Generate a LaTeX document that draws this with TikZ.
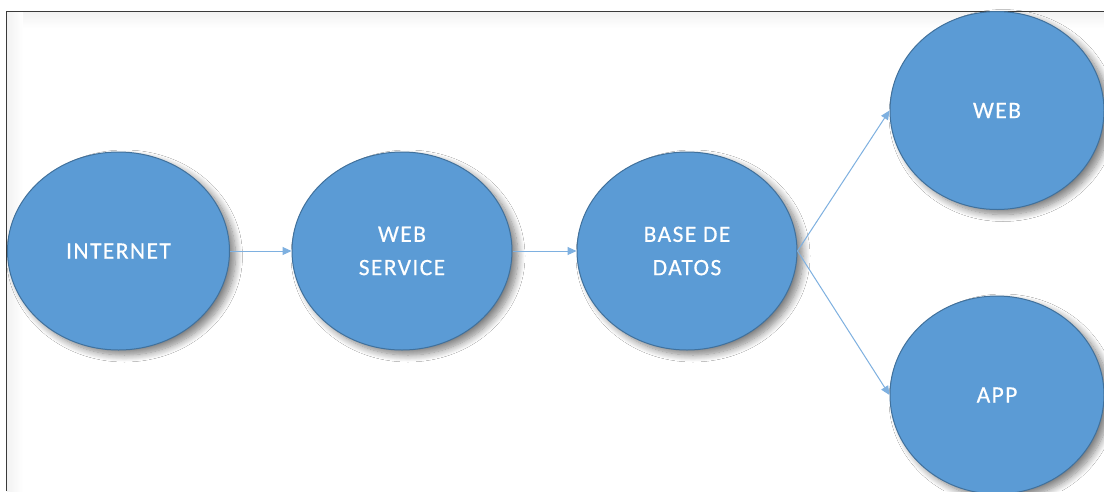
\documentclass[tikz,border=0pt]{standalone}
\usepackage{fontspec}
\setmainfont{Carlito}
\usetikzlibrary{shapes.geometric,arrows.meta,shadows.blur}
\definecolor{nodeblue}{HTML}{5B9BD5}
\definecolor{nodeborder}{HTML}{41719C}
\definecolor{arrowblue}{HTML}{7EB0E0}
\definecolor{framegray}{HTML}{3A3A3A}
\tikzset{
  blob/.style={ellipse, draw=nodeborder, line width=1pt, fill=nodeblue,
    inner sep=0pt, text=white, align=center,
    font=\fontsize{23.5}{33.3}\selectfont\addfontfeature{LetterSpace=6,FakeBold=0.4},
    blur shadow={shadow xshift=6pt, shadow yshift=-5pt, shadow blur steps=10, shadow opacity=50, shadow blur radius=7pt}},
  link/.style={draw=arrowblue, line width=1pt, -{Triangle[length=9pt,width=8pt]}}
}
\begin{document}
\begin{tikzpicture}[x=1pt,y=-1pt]
\useasboundingbox (0,0) rectangle (1104,491);
\fill[white] (0,0) rectangle (1104,491);
\shade[top color=gray!10, bottom color=white] (7,12) rectangle (1104,28);
\shade[left color=gray!10, right color=white] (7,12) rectangle (23,491);
\draw[framegray, line width=1.6pt] (6.5,491) -- (6.5,11.5) -- (1104,11.5);

\node[blob, minimum width=222pt, minimum height=198pt] (internet) at (118.5,251) {INTERNET};
\node[blob, minimum width=220pt, minimum height=198pt] (ws) at (402,251) {WEB\\SERVICE};
\node[blob, minimum width=220pt, minimum height=198pt] (db) at (687,251) {BASE DE\\DATOS};
\node[blob, minimum width=214pt, minimum height=198pt] (web) at (997,110.5) {WEB};
\node[blob, minimum width=214pt, minimum height=198pt] (app) at (997,395) {APP};

\draw[link] (internet.east) -- (ws.west);
\draw[link] (ws.east) -- (db.west);
\draw[link] (db.east) -- (web.west);
\draw[link] (db.east) -- (app.west);
\end{tikzpicture}
\end{document}
